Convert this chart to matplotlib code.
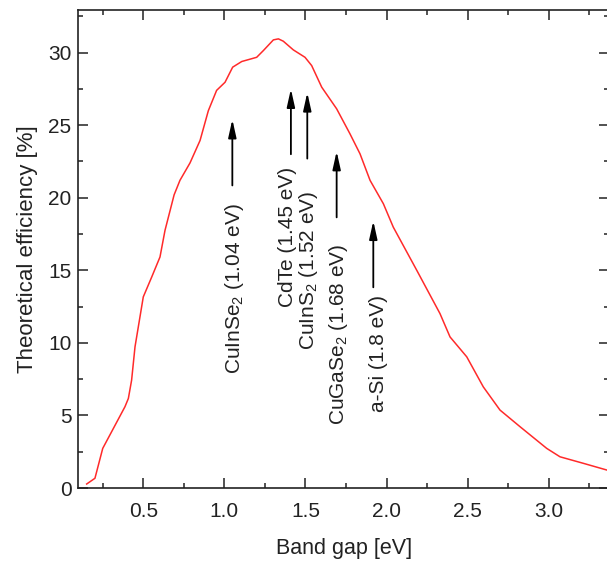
import matplotlib
matplotlib.use("Agg")
import matplotlib.pyplot as plt

# Curve: theoretical efficiency vs band gap
band_gap = [0.151, 0.202, 0.250, 0.387, 0.408, 0.428, 0.449, 0.500, 0.552, 0.603,
            0.634, 0.690, 0.726, 0.788, 0.850, 0.901, 0.952, 1.004, 1.051, 1.107,
            1.199, 1.240, 1.302, 1.333, 1.363, 1.425, 1.497, 1.538, 1.600, 1.692,
            1.774, 1.836, 1.898, 1.980, 2.041, 2.186, 2.329, 2.391, 2.494, 2.596,
            2.699, 2.823, 2.987, 3.069, 3.213, 3.357]
efficiency = [0.275, 0.67, 2.73, 5.6, 6.17, 7.43, 9.73, 13.17, 14.54, 15.92,
              17.76, 20.2, 21.2, 22.4, 23.95, 26.0, 27.4, 27.96, 29.0, 29.39,
              29.68, 30.14, 30.88, 30.95, 30.79, 30.19, 29.68, 29.11, 27.62, 26.13,
              24.41, 23.03, 21.2, 19.59, 17.98, 15.0, 12.02, 10.41, 9.04, 6.97,
              5.37, 4.22, 2.73, 2.15, 1.70, 1.24]

# Annotations (material labels with arrows)
labels = ["CuInSe$_2$ (1.04 eV)", "CdTe (1.45 eV)", "CuInS$_2$ (1.52 eV)",
          "CuGaSe$_2$ (1.68 eV)", "a-Si (1.8 eV)"]
arrow_x = [1.049, 1.410, 1.511, 1.692, 1.918]
arrow_tail = [20.85, 23.0, 22.7, 18.65, 13.83]
arrow_tip = [25.4, 27.5, 27.25, 23.2, 18.4]
text_x = [1.065, 1.389, 1.521, 1.703, 1.953]
text_top = [19.6, 22.1, 20.5, 16.86, 13.28]

xticks = [0.5, 1.0, 1.5, 2.0, 2.5, 3.0]
yticks = [0, 5, 10, 15, 20, 25, 30]

plt.rcParams['font.family'] = ['Liberation Sans', 'DejaVu Sans']
plt.rcParams['mathtext.fontset'] = 'custom'
plt.rcParams['mathtext.rm'] = 'Liberation Sans'
plt.rcParams['mathtext.it'] = 'Liberation Sans'

fig = plt.figure(figsize=(6.07, 5.65), dpi=100)
ax = fig.add_axes([78.4 / 607, 1 - 488 / 565, (609 - 78.4) / 607, (488 - 9.7) / 565])

ax.plot(band_gap, efficiency, color='#ff2a2a', lw=1.1)

for lab, ax_x, t0, t1, tx, tt in zip(labels, arrow_x, arrow_tail, arrow_tip, text_x, text_top):
    ax.annotate('', xy=(ax_x, t1), xytext=(ax_x, t0),
                arrowprops=dict(arrowstyle='-|>,head_length=0.9,head_width=0.2',
                                color='black', lw=1.3, shrinkA=0, shrinkB=0,
                                mutation_scale=12))
    ax.text(tx, tt, lab, rotation=90, ha='center', va='top', fontsize=15, color='#222222')

ax.set_xlim(0.1, 3.371)
ax.set_ylim(0, 32.96)
ax.set_xticks(xticks)
ax.set_xticklabels([f"{v:.1f}" for v in xticks])
ax.set_yticks(yticks)
ax.set_xticks([0.25, 0.75, 1.25, 1.75, 2.25, 2.75, 3.25], minor=True)
ax.set_yticks([2.5, 7.5, 12.5, 17.5, 22.5, 27.5, 32.5], minor=True)

ax.tick_params(which='both', direction='in', top=True, right=True, width=1.1,
               labelsize=15, labelcolor='#222222', color='#222222')
ax.tick_params(which='major', length=7)
ax.tick_params(which='minor', length=3.5)
ax.tick_params(axis='x', which='major', pad=10)
ax.tick_params(axis='y', which='major', pad=5)
for s in ax.spines.values():
    s.set_linewidth(1.2)
    s.set_color('#222222')

ax.set_xlabel('Band gap [eV]', fontsize=15.5, color='#222222', labelpad=12)
ax.set_ylabel('Theoretical efficiency [%]', fontsize=16, color='#222222', labelpad=7)

fig.savefig('out.png', dpi=100)
